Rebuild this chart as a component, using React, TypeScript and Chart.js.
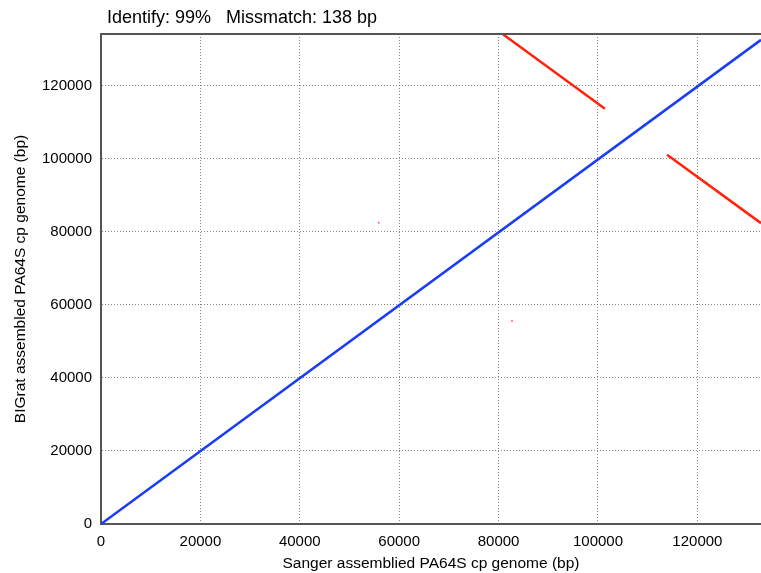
import React, { useEffect, useRef } from "react";
import { Chart, registerables } from "chart.js";

Chart.register(...registerables);

const titleText = "Identify: 99%   Missmatch: 138 bp";
const xAxisTitle = "Sanger assemblied PA64S cp genome (bp)";
const yAxisTitle = "BIGrat assembled PA64S cp genome (bp)";

const xMin = 0;
const xMax = 132800;
const yMin = 0;
const yMax = 134200;
const xTicks = [0, 20000, 40000, 60000, 80000, 100000, 120000];
const yTicks = [0, 20000, 40000, 60000, 80000, 100000, 120000];

// forward alignment (blue)
const forwardX = [0, 132800];
const forwardY = [0, 132600];
// inverted repeat alignments (red)
const invA_X = [80600, 101400];
const invA_Y = [134400, 113700];
const invB_X = [113900, 132800];
const invB_Y = [101100, 82400];
// small red matches
const dotX = [55900, 82700];
const dotY = [82500, 55600];

const pts = (xs: number[], ys: number[]) => xs.map((x, i) => ({ x, y: ys[i] }));

const FONT = "'Liberation Sans', Arial, Helvetica, sans-serif";

export default function App() {
  const ref = useRef<HTMLCanvasElement | null>(null);
  useEffect(() => {
    if (!ref.current) return;
    const framePlugin = {
      id: "frame",
      afterDraw(chart: any) {
        const { ctx, chartArea } = chart;
        ctx.save();
        ctx.strokeStyle = "#555";
        ctx.lineWidth = 2;
        ctx.beginPath();
        ctx.moveTo(chartArea.left, chartArea.top);
        ctx.lineTo(chartArea.right, chartArea.top);
        ctx.stroke();
        ctx.fillStyle = "#000";
        ctx.font = `18px ${FONT}`;
        ctx.textBaseline = "middle";
        ctx.textAlign = "left";
        ctx.fillText(titleText, 107, 18);
        ctx.restore();
      },
    };
    const chart = new Chart(ref.current, {
      type: "scatter",
      data: {
        datasets: [
          {
            data: pts(forwardX, forwardY),
            showLine: true,
            borderColor: "rgb(25,60,245)",
            borderWidth: 2.5,
            pointRadius: 0,
          },
          {
            data: pts(invA_X, invA_Y),
            showLine: true,
            borderColor: "rgb(255,35,10)",
            borderWidth: 2.5,
            pointRadius: 0,
          },
          {
            data: pts(invB_X, invB_Y),
            showLine: true,
            borderColor: "rgb(255,35,10)",
            borderWidth: 2.5,
            pointRadius: 0,
          },
          {
            data: pts(dotX, dotY),
            showLine: false,
            backgroundColor: "rgba(255,60,60,0.8)",
            borderWidth: 0,
            pointRadius: 1,
          },
        ],
      },
      options: {
        animation: false,
        responsive: false,
        layout: { autoPadding: false, padding: { top: 34, right: 0, left: 0, bottom: 0 } },
        plugins: { legend: { display: false }, tooltip: { enabled: false } },
        scales: {
          x: {
            type: "linear",
            min: xMin,
            max: xMax,
            afterFit: (s: any) => { s.height = 49; s.paddingRight = 0; s.paddingLeft = 0; },
            afterBuildTicks: (s: any) => { s.ticks = xTicks.map((v) => ({ value: v })); },
            ticks: {
              color: "#000",
              font: { family: FONT, size: 15 },
              padding: 9,
              maxRotation: 0,
              autoSkip: false,
              callback: (v: any) => String(v),
            },
            grid: { color: "#888", lineWidth: 1, drawTicks: false, tickLength: 0 },
            border: { display: true, color: "#555", width: 2, dash: [1, 2] },
            title: {
              display: true,
              text: xAxisTitle,
              color: "#000",
              font: { family: FONT, size: 15.5 },
              padding: { top: 2, bottom: 0 },
            },
          },
          y: {
            type: "linear",
            min: yMin,
            max: yMax,
            afterFit: (s: any) => { s.width = 101; s.paddingTop = 0; s.paddingBottom = 0; },
            afterBuildTicks: (s: any) => { s.ticks = yTicks.map((v) => ({ value: v })); },
            ticks: {
              color: "#000",
              font: { family: FONT, size: 15 },
              padding: 9,
              autoSkip: false,
              callback: (v: any) => String(v),
            },
            grid: { color: "#888", lineWidth: 1, drawTicks: false, tickLength: 0 },
            border: { display: true, color: "#555", width: 2, dash: [1, 2] },
            title: {
              display: true,
              text: yAxisTitle,
              color: "#000",
              font: { family: FONT, size: 15.5 },
              padding: { top: 11, bottom: 0 },
            },
          },
        },
      },
      plugins: [framePlugin],
    } as any);
    return () => chart.destroy();
  }, []);
  return (
    <div style={{ position: "absolute", left: 0, top: 0, width: 761, height: 573, background: "#fff" }}>
      <canvas ref={ref} width={761} height={573} style={{ width: 761, height: 573 }} />
    </div>
  );
}
